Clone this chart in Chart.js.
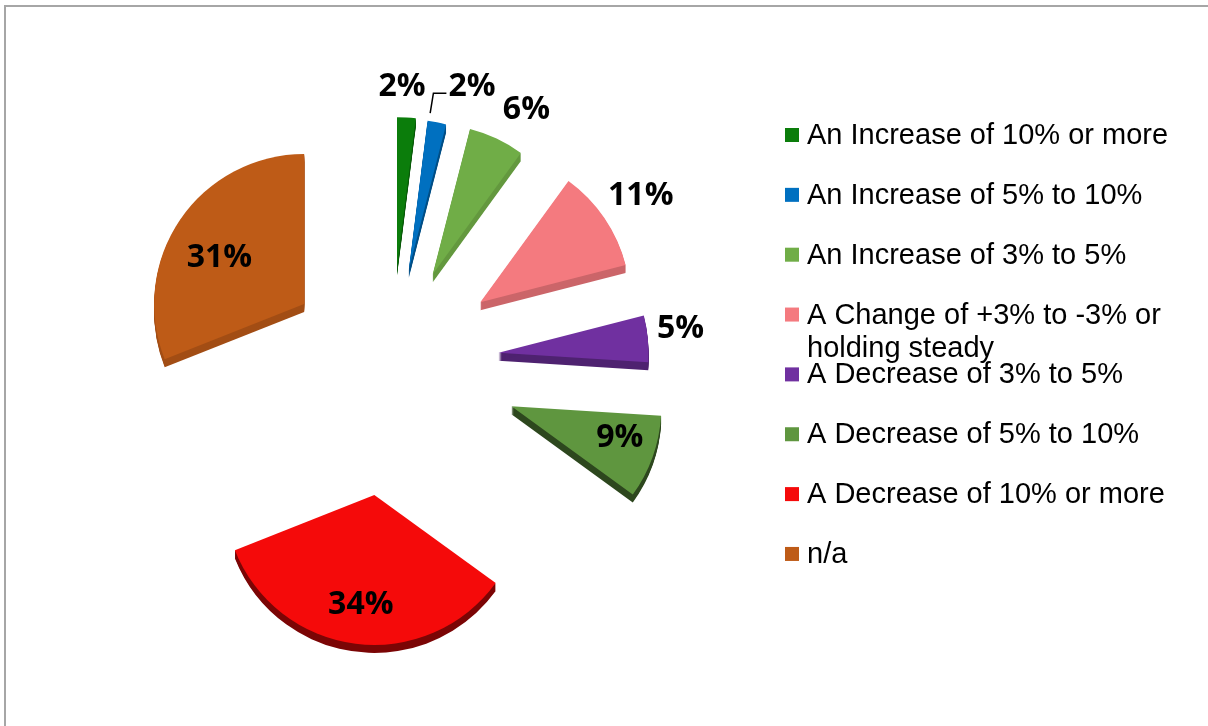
<!DOCTYPE html>
<html>
<head>
<meta charset="utf-8">
<title>Budget outlook</title>
<script src="https://cdn.jsdelivr.net/npm/chart.js@4.4.0/dist/chart.umd.min.js"></script>
<style>
  html, body { margin: 0; padding: 0; background: #fff; }
  canvas { display: block; }
</style>
</head>
<body>
<canvas id="outlookPie" width="1208" height="726"></canvas>
<script>
// --- data ---
const categories = [
  'An Increase of 10% or more',
  'An Increase of 5% to 10%',
  'An Increase of 3% to 5%',
  'A Change of +3% to -3% or holding steady',
  'A Decrease of 3% to 5%',
  'A Decrease of 5% to 10%',
  'A Decrease of 10% or more',
  'n/a'
];
const shares = [2, 2, 6, 11, 5, 9, 34, 31];

// --- look ---
const sliceColors = ['#0B7D0B', '#0070C0', '#70AD47', '#F47A7F', '#7030A0', '#5F963F', '#F50A0A', '#BE5B17'];
const sideShade   = [0.7, 0.7, 0.88, 0.83, 0.7, 0.47, 0.5, 0.85];  // darkness of the slab edge
const explode     = [96, 95, 98, 108, 108, 128, 133, 105];          // px pulled out from the centre
const labelDist   = [183, 196, 192, 194, 184, 112, 108, 98];         // px from slice tip
const labelTurn   = [-2, 8, 4, 0, -3, -5, 0, -4];                    // deg nudge off the mid line
const DEPTH = 8;

const LEGEND = { boxX: 785, textX: 807, top: 135, step: 59.85, box: 14, lineGap: 33, maxWidth: 380 };

function shade(hex, f) {
  const n = parseInt(hex.slice(1), 16);
  const r = Math.round(((n >> 16) & 255) * f);
  const g = Math.round(((n >> 8) & 255) * f);
  const b = Math.round((n & 255) * f);
  return `rgb(${r},${g},${b})`;
}

function wrapText(ctx, text, maxWidth) {
  const words = text.split(' ');
  const lines = [];
  let line = '';
  words.forEach(w => {
    const test = line ? line + ' ' + w : w;
    if (line && ctx.measureText(test).width > maxWidth) {
      lines.push(line);
      line = w;
    } else {
      line = test;
    }
  });
  if (line) lines.push(line);
  return lines;
}

// grey frame along the top and left edge
const framePlugin = {
  id: 'frame',
  beforeDraw(chart) {
    const ctx = chart.ctx;
    ctx.save();
    ctx.fillStyle = '#fff';
    ctx.fillRect(0, 0, chart.width, chart.height);
    ctx.strokeStyle = '#A6A6A6';
    ctx.lineWidth = 2;
    ctx.beginPath();
    ctx.moveTo(5, chart.height);
    ctx.lineTo(5, 6);
    ctx.lineTo(chart.width, 6);
    ctx.stroke();
    ctx.restore();
  }
};

// push every slice out along its own mid angle
const explodePlugin = {
  id: 'explode',
  afterDatasetUpdate(chart, args) {
    args.meta.data.forEach((arc, i) => {
      const mid = (arc.startAngle + arc.endAngle) / 2;
      arc.x += Math.cos(mid) * explode[i];
      arc.y += Math.sin(mid) * explode[i];
    });
  }
};

// slab thickness under each slice
const depthPlugin = {
  id: 'depth',
  beforeDatasetsDraw(chart) {
    const ctx = chart.ctx;
    const arcs = chart.getDatasetMeta(0).data;
    ctx.save();
    arcs.forEach((arc, i) => {
      ctx.fillStyle = shade(sliceColors[i], sideShade[i]);
      for (let k = 1; k <= DEPTH; k++) {
        ctx.beginPath();
        ctx.moveTo(arc.x, arc.y + k);
        ctx.arc(arc.x, arc.y + k, arc.outerRadius, arc.startAngle, arc.endAngle);
        ctx.closePath();
        ctx.fill();
      }
    });
    ctx.restore();
  }
};

// percentage labels
const labelPlugin = {
  id: 'pctLabels',
  afterDatasetsDraw(chart) {
    const ctx = chart.ctx;
    const arcs = chart.getDatasetMeta(0).data;
    ctx.save();
    ctx.font = 'bold 32px "Open Sans", sans-serif';
    ctx.fillStyle = '#000';
    ctx.textAlign = 'center';
    ctx.textBaseline = 'middle';
    arcs.forEach((arc, i) => {
      const txt = shares[i] + '%';
      const a = (arc.startAngle + arc.endAngle) / 2 + labelTurn[i] * Math.PI / 180;
      const x = arc.x + Math.cos(a) * labelDist[i];
      const y = arc.y + Math.sin(a) * labelDist[i] + 3;
      ctx.fillText(txt, x, y);
      if (i === 1) {
        // thin slice: label pushed aside, tie it back with a leader
        const w = ctx.measureText(txt).width;
        const ea = arc.startAngle + 0.01;
        const ex = arc.x + Math.cos(ea) * (arc.outerRadius + 8);
        const ey = arc.y + Math.sin(ea) * (arc.outerRadius + 8);
        ctx.strokeStyle = '#000';
        ctx.lineWidth = 1.5;
        ctx.beginPath();
        ctx.moveTo(x - w / 2 - 2, y + 6);
        ctx.lineTo(x - w / 2 - 15, y + 6);
        ctx.lineTo(ex, ey);
        ctx.stroke();
      }
    });
    ctx.restore();
  }
};

// legend on the right
const legendPlugin = {
  id: 'sideLegend',
  afterDraw(chart) {
    const ctx = chart.ctx;
    ctx.save();
    ctx.font = '29px "Liberation Sans", Arial, sans-serif';
    ctx.textBaseline = 'alphabetic';
    ctx.textAlign = 'left';
    categories.forEach((name, i) => {
      const cy = LEGEND.top + i * LEGEND.step;
      ctx.fillStyle = sliceColors[i];
      ctx.fillRect(LEGEND.boxX, cy - LEGEND.box / 2, LEGEND.box, LEGEND.box);
      ctx.fillStyle = '#000';
      wrapText(ctx, name, LEGEND.maxWidth).forEach((line, j) => {
        ctx.fillText(line, LEGEND.textX, cy + 9 + j * LEGEND.lineGap);
      });
    });
    ctx.restore();
  }
};

new Chart(document.getElementById('outlookPie'), {
  type: 'pie',
  data: {
    labels: categories,
    datasets: [{
      data: shares,
      backgroundColor: sliceColors,
      borderWidth: 0,
      radius: 150
    }]
  },
  options: {
    responsive: false,
    animation: false,
    events: [],
    layout: { padding: { left: 0, right: 426, top: 20, bottom: 20 } },
    plugins: {
      legend: { display: false },
      tooltip: { enabled: false }
    }
  },
  plugins: [framePlugin, explodePlugin, depthPlugin, labelPlugin, legendPlugin]
});
</script>
</body>
</html>
